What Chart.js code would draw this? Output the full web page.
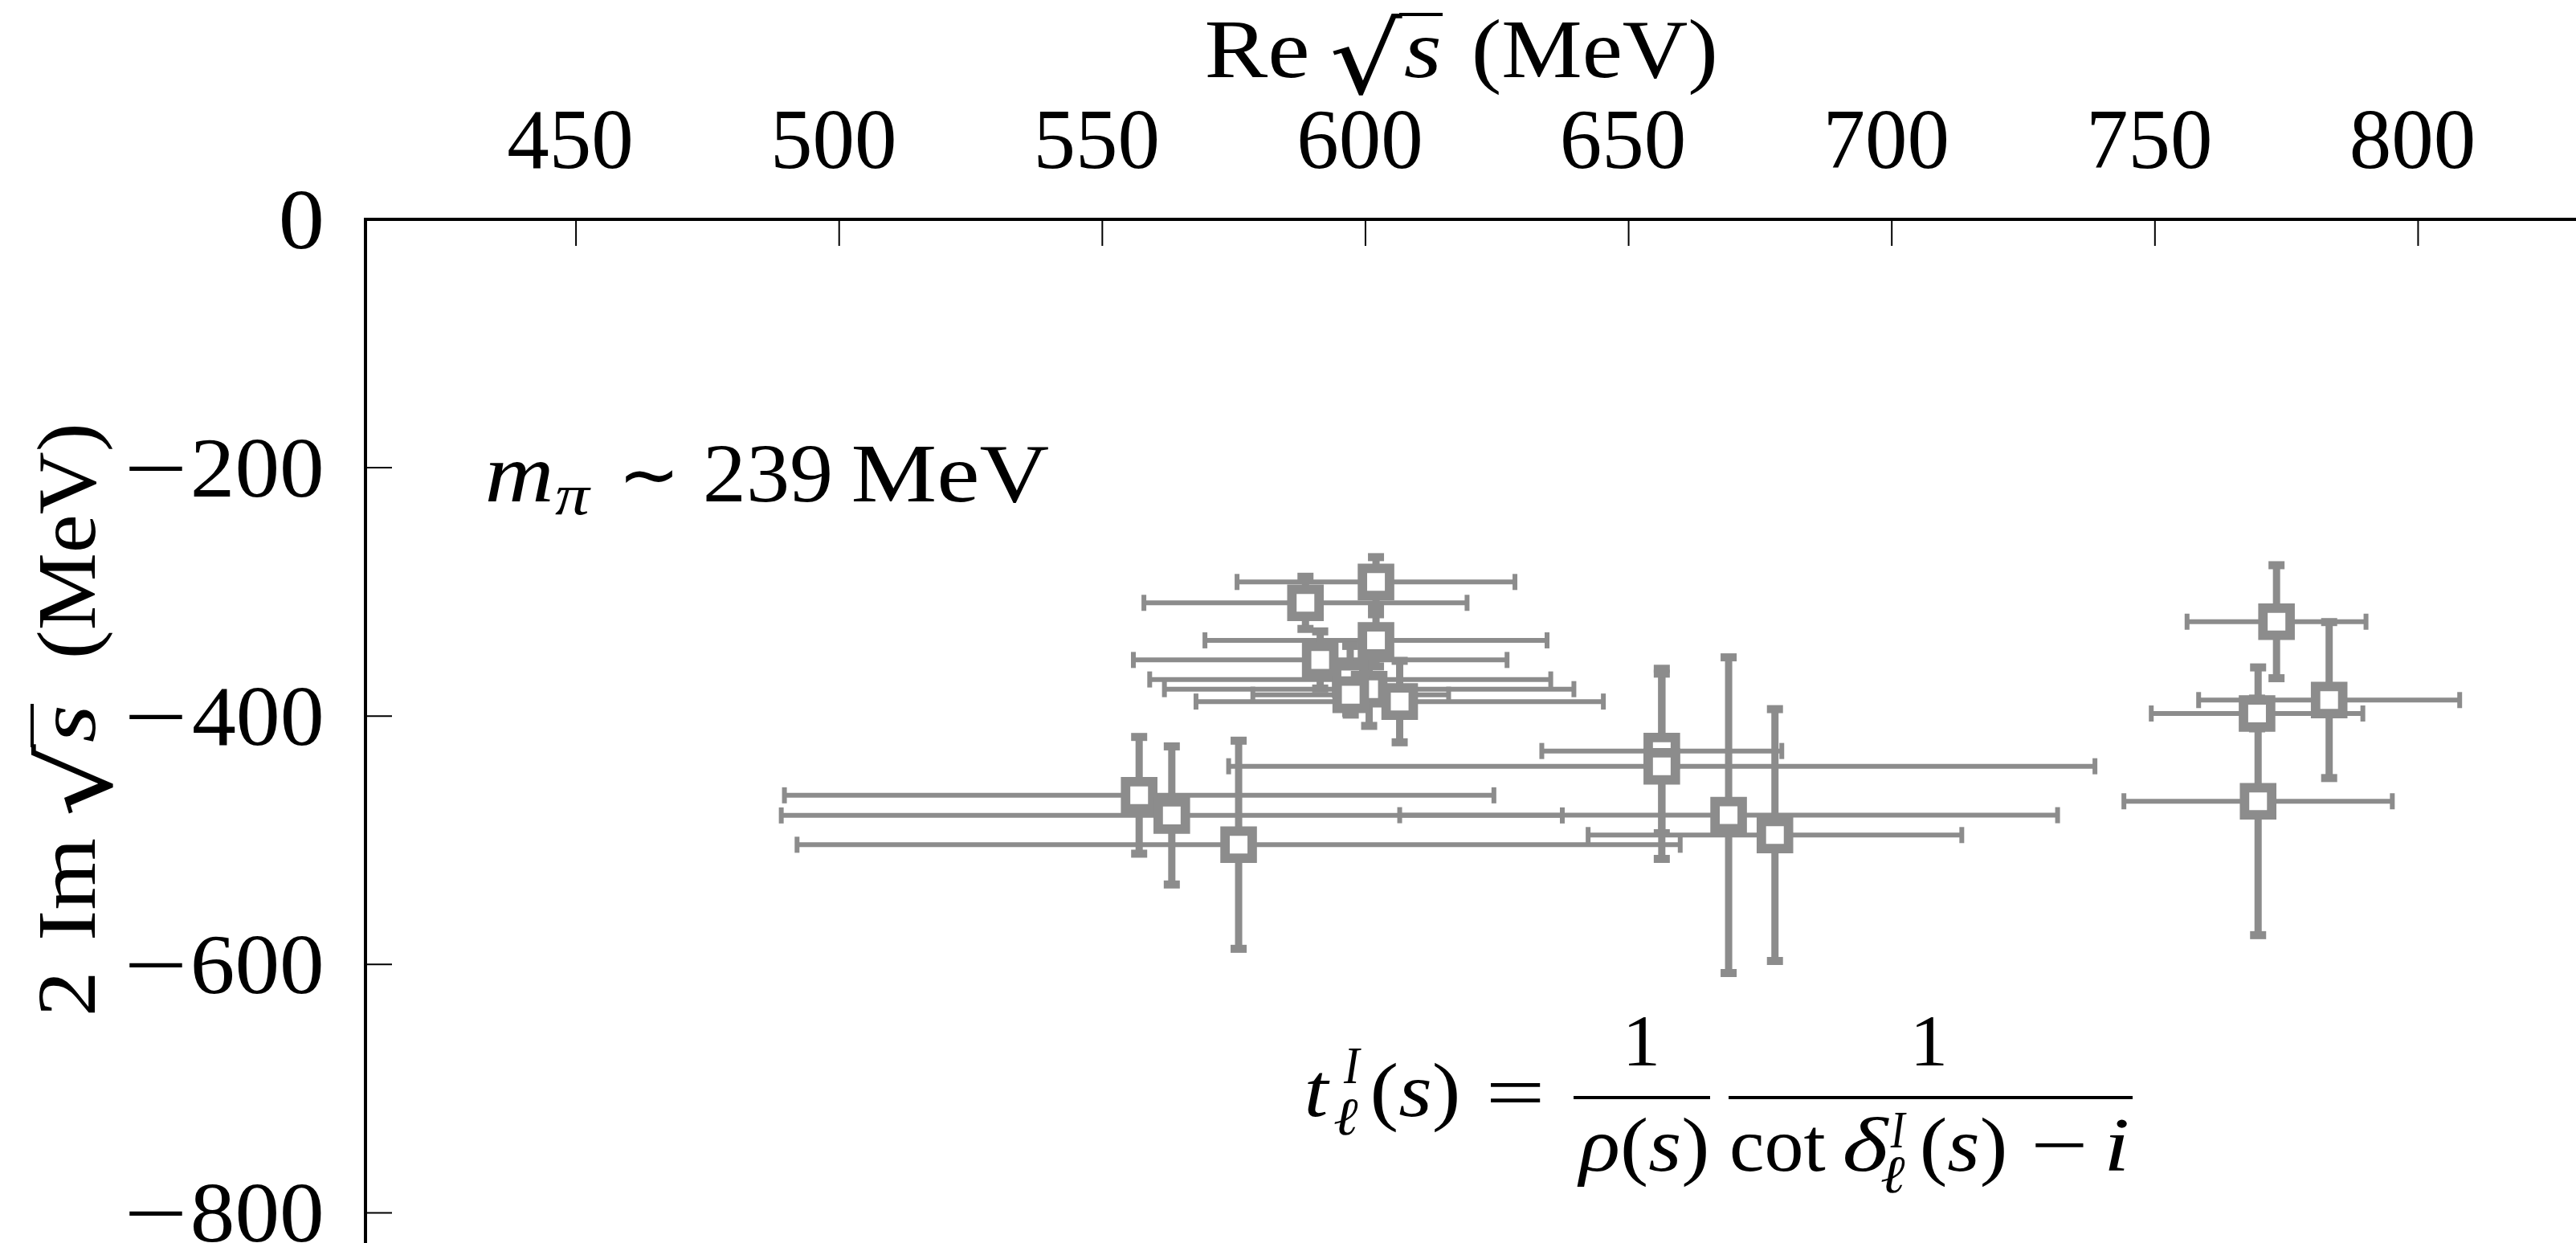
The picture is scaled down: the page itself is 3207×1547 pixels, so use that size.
<!DOCTYPE html>
<html>
<head>
<meta charset="utf-8">
<title>Pole positions</title>
<script src="https://cdn.jsdelivr.net/npm/chart.js@4.4.1/dist/chart.umd.min.js"></script>
<style>
  html, body { margin: 0; padding: 0; background: #fff; overflow: hidden; }
  #wrap { width: 3207px; height: 1547px; }
</style>
</head>
<body>
<div id="wrap"><canvas id="poleChart" width="3207" height="1547"></canvas></div>
<script>
// pole positions in MeV: Re sqrt(s) and 2 Im sqrt(s), each with its error
const reSqrtS = [602.0, 588.6, 602.0, 591.4, 597.1, 600.7, 597.2, 606.5, 557.0, 563.2, 575.9, 656.3, 656.3, 669.0, 677.8, 783.1, 769.4, 769.6, 773.1];
const reSqrtSErr = [26.4, 30.7, 32.5, 35.5, 38.1, 38.9, 18.6, 38.7, 67.4, 74.2, 83.9, 22.8, 82.3, 62.5, 35.5, 24.8, 20.1, 25.5, 17.0];
const twoImSqrtS = [-292.0, -308.8, -339.0, -354.8, -370.5, -378.3, -382.8, -388.3, -463.8, -480.0, -503.6, -428.1, -440.4, -479.8, -495.8, -387.1, -397.9, -468.6, -324.0];
const twoImSqrtSErr = [20, 21, 21, 23, 27, 29.6, 16, 32.8, 47, 55.6, 83.8, 66.2, 74.6, 127.1, 101.4, 62.8, 12, 107.8, 45.5];

const xTicks = [450, 500, 550, 600, 650, 700, 750, 800];
const yTicks = [0, -200, -400, -600, -800];
const yTickLabels = ["0", "200", "400", "600", "800"];   // drawn with a leading minus when negative

const GREY = "#8c8c8c";
const SERIF = '"Liberation Serif", "DejaVu Serif", serif';

const points = reSqrtS.map((re, i) => ({ x: re, y: twoImSqrtS[i] }));

function line(ctx, x0, y0, x1, y1) {
  ctx.beginPath();
  ctx.moveTo(x0, y0);
  ctx.lineTo(x1, y1);
  ctx.stroke();
}

function fontOf(r) {
  return (r.it ? "italic " : "") + (r.size || 104) + "px " + (r.family || SERIF);
}

// draws a row of text runs, stretched horizontally so the ink spans left..right
function drawFitted(ctx, runs, left, right, y) {
  ctx.textAlign = "left";
  let adv = 0;
  const widths = runs.map((r) => {
    ctx.font = fontOf(r);
    const w = ctx.measureText(r.t).width;
    adv += w + (r.gap || 0);
    return w;
  });
  ctx.font = fontOf(runs[0]);
  const m0 = ctx.measureText(runs[0].t);
  const last = runs[runs.length - 1];
  ctx.font = fontOf(last);
  const m1 = ctx.measureText(last.t);
  const inkStart = -m0.actualBoundingBoxLeft;
  const inkEnd = adv - widths[widths.length - 1] - (last.gap || 0) + m1.actualBoundingBoxRight;
  const k = (right - left) / (inkEnd - inkStart);
  ctx.save();
  ctx.translate(left - inkStart * k, y);
  ctx.scale(k, 1);
  let x = 0;
  runs.forEach((r, i) => {
    ctx.font = fontOf(r);
    ctx.fillText(r.t, x, r.dy || 0);
    x += widths[i] + (r.gap || 0);
  });
  ctx.restore();
}

// a glyph stretched to fill a box
function fitGlyph(ctx, ch, left, top, w, h, family) {
  ctx.textAlign = "left";
  ctx.font = "100px " + family;
  const m = ctx.measureText(ch);
  const gw = m.actualBoundingBoxLeft + m.actualBoundingBoxRight;
  const gh = m.actualBoundingBoxAscent + m.actualBoundingBoxDescent;
  ctx.save();
  ctx.translate(left, top);
  ctx.scale(w / gw, h / gh);
  ctx.fillText(ch, m.actualBoundingBoxLeft, m.actualBoundingBoxAscent);
  ctx.restore();
}

// sqrt(s): radical from u0, italic s under a bar; baseline at y
function sqrtS(ctx, u0, y) {
  fitGlyph(ctx, "\u221A", u0, y - 80, 88, 104, '"DejaVu Serif"');
  ctx.lineWidth = 4;
  line(ctx, u0 + 84, y - 78, u0 + 138, y - 78);
  drawFitted(ctx, [{ t: "s", it: true }], u0 + 91, u0 + 134, y);
}

// horizontal and vertical error bars with caps, under the markers
const errorBars = {
  id: "errorBars",
  beforeDatasetsDraw(chart) {
    const { ctx, chartArea, scales } = chart;
    const sx = scales.x, sy = scales.y;
    ctx.save();
    ctx.beginPath();
    ctx.rect(chartArea.left, chartArea.top, chartArea.width, chartArea.height);
    ctx.clip();
    ctx.strokeStyle = GREY;
    ctx.lineCap = "butt";
    reSqrtS.forEach((re, i) => {
      const im = twoImSqrtS[i];
      const px = sx.getPixelForValue(re);
      const py = sy.getPixelForValue(im);
      const xl = sx.getPixelForValue(re - reSqrtSErr[i]);
      const xr = sx.getPixelForValue(re + reSqrtSErr[i]);
      const yt = sy.getPixelForValue(im + twoImSqrtSErr[i]);
      const yb = sy.getPixelForValue(im - twoImSqrtSErr[i]);

      ctx.lineWidth = 6;
      line(ctx, xl, py, xr, py);
      line(ctx, xl, py - 10, xl, py + 10);
      line(ctx, xr, py - 10, xr, py + 10);

      ctx.lineWidth = 9;
      line(ctx, px, yt, px, yb);
      ctx.lineWidth = 10;
      line(ctx, px - 10, yt, px + 10, yt);
      line(ctx, px - 10, yb, px + 10, yb);
    });
    ctx.restore();
  }
};

// inward tick marks and the left-axis labels
const axisDecor = {
  id: "axisDecor",
  afterDraw(chart) {
    const { ctx, chartArea, scales } = chart;
    ctx.save();
    ctx.strokeStyle = "#000";
    ctx.fillStyle = "#000";
    ctx.lineWidth = 2;
    xTicks.forEach((v) => {
      const p = scales.x.getPixelForValue(v);
      line(ctx, p, chartArea.top, p, chartArea.top + 33);
    });
    ctx.textBaseline = "alphabetic";
    yTicks.forEach((v, i) => {
      const p = scales.y.getPixelForValue(v);
      line(ctx, chartArea.left, p, chartArea.left + 33, p);
      const s = yTickLabels[i];
      const right = chartArea.left - 55;
      const left = s.length === 1 ? right - 49 : right - 159;
      drawFitted(ctx, [{ t: s, size: 105 }], left, right, p + 36);
      if (v < 0) {
        drawFitted(ctx, [{ t: "\u2212", size: 105 }], right - 239, right - 172, p + 36);
      }
    });
    ctx.restore();
  }
};

// axis titles and the two annotations
const labels = {
  id: "labels",
  afterDraw(chart) {
    const ctx = chart.ctx;
    ctx.save();
    ctx.fillStyle = "#000";
    ctx.strokeStyle = "#000";
    ctx.textBaseline = "alphabetic";

    // top axis title
    drawFitted(ctx, [{ t: "Re" }], 1503, 1627, 96);
    sqrtS(ctx, 1658, 96);
    drawFitted(ctx, [{ t: "(MeV)" }], 1836, 2135, 96);

    // left axis title, rotated
    ctx.save();
    ctx.translate(118, 1261);
    ctx.rotate(-Math.PI / 2);
    drawFitted(ctx, [{ t: "2" }], 0, 47, 0);
    drawFitted(ctx, [{ t: "Im" }], 93, 217, 0);
    sqrtS(ctx, 247, 0);
    drawFitted(ctx, [{ t: "(MeV)" }], 445, 731, 0);
    ctx.restore();

    // pion mass
    drawFitted(ctx, [{ t: "m", it: true }], 607, 685, 624);
    drawFitted(ctx, [{ t: "\u03C0", it: true, size: 72 }], 691, 736, 640);
    ctx.font = '92px "DejaVu Sans"';
    ctx.textAlign = "center";
    ctx.fillText("\u223C", 808, 622);
    drawFitted(ctx, [{ t: "239" }], 879, 1033, 624);
    drawFitted(ctx, [{ t: "MeV" }], 1063, 1305, 624);

    // partial-wave amplitude
    const f = 96, sc = 66;
    drawFitted(ctx, [{ t: "t", it: true, size: f }], 1628, 1656, 1389);
    drawFitted(ctx, [{ t: "I", it: true, size: sc }], 1672, 1695, 1348);
    drawFitted(ctx, [{ t: "\u2113", it: true, size: sc }], 1661, 1691, 1412);
    drawFitted(ctx, [{ t: "(", size: f }, { t: "s", it: true, size: f }, { t: ")", size: f }], 1710, 1814, 1389);
    drawFitted(ctx, [{ t: "=", size: f }], 1855, 1918, 1392);

    drawFitted(ctx, [{ t: "1", size: 92 }], 2028, 2062, 1326);
    drawFitted(ctx, [{ t: "1", size: 92 }], 2386, 2420, 1326);
    ctx.lineWidth = 4;
    line(ctx, 1959, 1366, 2129, 1366);
    line(ctx, 2152, 1366, 2655, 1366);

    drawFitted(ctx, [{ t: "\u03C1", it: true, size: f }, { t: "(", size: f }, { t: "s", it: true, size: f }, { t: ")", size: f }], 1963, 2124, 1457);
    drawFitted(ctx, [{ t: "cot", size: f }], 2156, 2273, 1457);
    drawFitted(ctx, [{ t: "\u03B4", it: true, size: f }], 2296, 2352, 1457);
    drawFitted(ctx, [{ t: "I", it: true, size: sc }], 2353, 2374, 1428);
    drawFitted(ctx, [{ t: "\u2113", it: true, size: sc }], 2342, 2372, 1484);
    drawFitted(ctx, [{ t: "(", size: f }, { t: "s", it: true, size: f }, { t: ")", size: f }], 2394, 2495, 1457);
    drawFitted(ctx, [{ t: "\u2212", size: f }], 2533, 2594, 1457);
    drawFitted(ctx, [{ t: "i", it: true, size: f }], 2625, 2648, 1457);

    ctx.restore();
  }
};

new Chart(document.getElementById("poleChart"), {
  type: "scatter",
  data: {
    datasets: [{
      data: points,
      pointStyle: "rect",
      pointRadius: 23.9,
      pointHoverRadius: 23.9,
      pointBorderWidth: 11.75,
      pointHoverBorderWidth: 11.75,
      pointBorderColor: GREY,
      pointBackgroundColor: "#fff",
      showLine: false
    }]
  },
  options: {
    responsive: false,
    animation: false,
    events: [],
    layout: { padding: 0, autoPadding: false },
    plugins: { legend: { display: false }, tooltip: { enabled: false } },
    scales: {
      x: {
        type: "linear",
        position: "top",
        min: 410,
        max: 830,
        afterBuildTicks: (s) => { s.ticks = xTicks.map((v) => ({ value: v })); },
        afterFit: (s) => {
          s.height = 273;
          s.paddingLeft = 0; s.paddingRight = 0; s.paddingTop = 0; s.paddingBottom = 0;
        },
        grid: { display: false },
        border: { display: true, color: "#000", width: 4 },
        ticks: {
          color: "#000",
          font: { family: SERIF, size: 105 },
          padding: 21,
          labelOffset: -7,
          maxRotation: 0,
          autoSkip: false,
          callback: (v) => String(v)
        }
      },
      y: {
        type: "linear",
        position: "left",
        min: -824.3,
        max: 0,
        afterBuildTicks: (s) => { s.ticks = yTicks.map((v) => ({ value: v })); },
        afterFit: (s) => {
          s.width = 455;
          s.paddingLeft = 0; s.paddingRight = 0; s.paddingTop = 0; s.paddingBottom = 0;
        },
        grid: { display: false },
        border: { display: true, color: "#000", width: 4 },
        ticks: { display: false }
      }
    }
  },
  plugins: [errorBars, axisDecor, labels]
});
</script>
</body>
</html>
